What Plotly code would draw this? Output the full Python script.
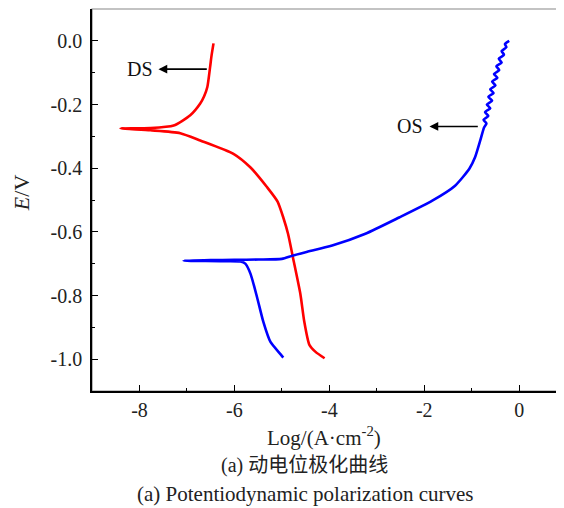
import plotly.graph_objects as go

# DS curve (red)
ds_logi = [-6.44, -6.48, -6.51, -6.57, -6.64, -6.72, -6.93, -7.28, -7.77, -8.40,
           -7.77, -7.14, -6.72, -6.02, -5.66, -5.31, -5.09, -4.97, -4.87, -4.76,
           -4.61, -4.53, -4.42, -4.29, -4.10]
ds_E = [-0.008, -0.045, -0.080, -0.145, -0.175, -0.197, -0.234, -0.266, -0.274, -0.275,
        -0.281, -0.290, -0.313, -0.355, -0.398, -0.460, -0.505, -0.555, -0.606, -0.685,
        -0.795, -0.880, -0.955, -0.977, -0.997]

# OS curve (blue)
os_logi = [-4.97, -5.03, -5.24, -5.39, -5.52, -5.66, -5.77, -5.87, -6.30, -7.07,
           -6.50, -6.00, -5.50, -5.00, -4.78, -4.50, -3.94, -3.24, -2.53, -1.83,
           -1.35, -1.05, -0.93, -0.82, -0.74,
           -0.69, -0.75, -0.65, -0.72, -0.61, -0.68, -0.57, -0.65, -0.54, -0.61,
           -0.50, -0.57, -0.46, -0.53, -0.42, -0.48, -0.37, -0.43, -0.32, -0.37,
           -0.27, -0.30, -0.21]
os_E = [-0.995, -0.984, -0.946, -0.883, -0.807, -0.732, -0.700, -0.693, -0.692, -0.691,
        -0.689, -0.688, -0.687, -0.685, -0.675, -0.664, -0.643, -0.606, -0.555, -0.502,
        -0.455, -0.402, -0.366, -0.313, -0.272,
        -0.260, -0.248, -0.236, -0.224, -0.212, -0.200, -0.188, -0.176, -0.164, -0.152,
        -0.140, -0.128, -0.116, -0.104, -0.092, -0.080, -0.068, -0.056, -0.044, -0.032,
        -0.020, -0.010, 0.000]

x_tickvals = [-8, -6, -4, -2, 0]
x_ticktext = ["-8", "-6", "-4", "-2", "0"]
y_tickvals = [0.0, -0.2, -0.4, -0.6, -0.8, -1.0]
y_ticktext = ["0.0", "-0.2", "-0.4", "-0.6", "-0.8", "-1.0"]

FONT = "Liberation Serif"

fig = go.Figure()
fig.add_trace(go.Scatter(x=ds_logi, y=ds_E, mode="lines",
                         line=dict(color="#ff0000", width=2.6, shape="spline",
                                   smoothing=0.6), name="DS"))
fig.add_trace(go.Scatter(x=os_logi, y=os_E, mode="lines",
                         line=dict(color="#0000ff", width=2.6, shape="spline",
                                   smoothing=0.6), name="OS"))

# plot frame (gray top/right)
fig.add_shape(type="rect", xref="paper", yref="paper", x0=0, y0=0, x1=1, y1=1,
              line=dict(color="#888888", width=1.2), layer="below")

fig.update_xaxes(range=[-9, 0.86], showgrid=False, zeroline=False,
                 showline=True, linecolor="black", linewidth=1.5,
                 ticks="inside", ticklen=6, tickwidth=1.3, tickcolor="black",
                 tickvals=x_tickvals, ticktext=x_ticktext,
                 minor=dict(tickvals=[-7, -5, -3, -1], ticks="inside", ticklen=3,
                            tickwidth=1.3, tickcolor="black"),
                 tickfont=dict(family=FONT, size=20, color="#222"))
fig.update_yaxes(range=[-1.1, 0.1], showgrid=False, zeroline=False,
                 showline=True, linecolor="black", linewidth=1.5,
                 ticks="inside", ticklen=6, tickwidth=1.3, tickcolor="black",
                 tickvals=y_tickvals, ticktext=y_ticktext, ticklabelstandoff=4,
                 minor=dict(tickvals=[-0.1, -0.3, -0.5, -0.7, -0.9], ticks="inside",
                            ticklen=3, tickwidth=1.3, tickcolor="black"),
                 tickfont=dict(family=FONT, size=20, color="#222"))

ann = []
# arrows
ann.append(dict(x=-7.6, y=-0.089, ax=-6.55, ay=-0.089, xref="x", yref="y",
                axref="x", ayref="y", text="", showarrow=True, arrowhead=2,
                arrowsize=1.1, arrowwidth=1.6, arrowcolor="black"))
ann.append(dict(x=-7.98, y=-0.089, xref="x", yref="y", text="DS", showarrow=False,
                font=dict(family=FONT, size=20, color="#111")))
ann.append(dict(x=-1.89, y=-0.269, ax=-0.84, ay=-0.269, xref="x", yref="y",
                axref="x", ayref="y", text="", showarrow=True, arrowhead=2,
                arrowsize=1.1, arrowwidth=1.6, arrowcolor="black"))
ann.append(dict(x=-2.29, y=-0.269, xref="x", yref="y", text="OS", showarrow=False,
                font=dict(family=FONT, size=20, color="#111")))
# axis titles and captions
ann.append(dict(x=0.496, y=-0.118, xref="paper", yref="paper",
                xanchor="center", yanchor="middle",
                text="Log/(A·cm<sup>-2</sup>)", showarrow=False,
                font=dict(family=FONT, size=21, color="#222")))
ann.append(dict(x=-0.15, y=0.52, xref="paper", yref="paper", text="<i>E</i>/V",
                xanchor="center", yanchor="middle",
                textangle=-90, showarrow=False,
                font=dict(family=FONT, size=22, color="#222")))
ann.append(dict(x=0.455, y=-0.196, xref="paper", yref="paper",
                xanchor="center", yanchor="middle",
                text="(a) 动电位极化曲线", showarrow=False,
                font=dict(family=FONT + ", Noto Sans CJK SC", size=20, color="#222")))
ann.append(dict(x=0.455, y=-0.270, xref="paper", yref="paper",
                xanchor="center", yanchor="middle",
                text="(a) Potentiodynamic polarization curves", showarrow=False,
                font=dict(family=FONT, size=21, color="#222")))

# the page adds an 8px body margin, so the figure is 8px smaller
fig.update_layout(width=556, height=500,
                  margin=dict(l=84, r=4, t=1, b=117),
                  plot_bgcolor="white", paper_bgcolor="white",
                  showlegend=False, annotations=ann)

fig.write_html("out.html")
